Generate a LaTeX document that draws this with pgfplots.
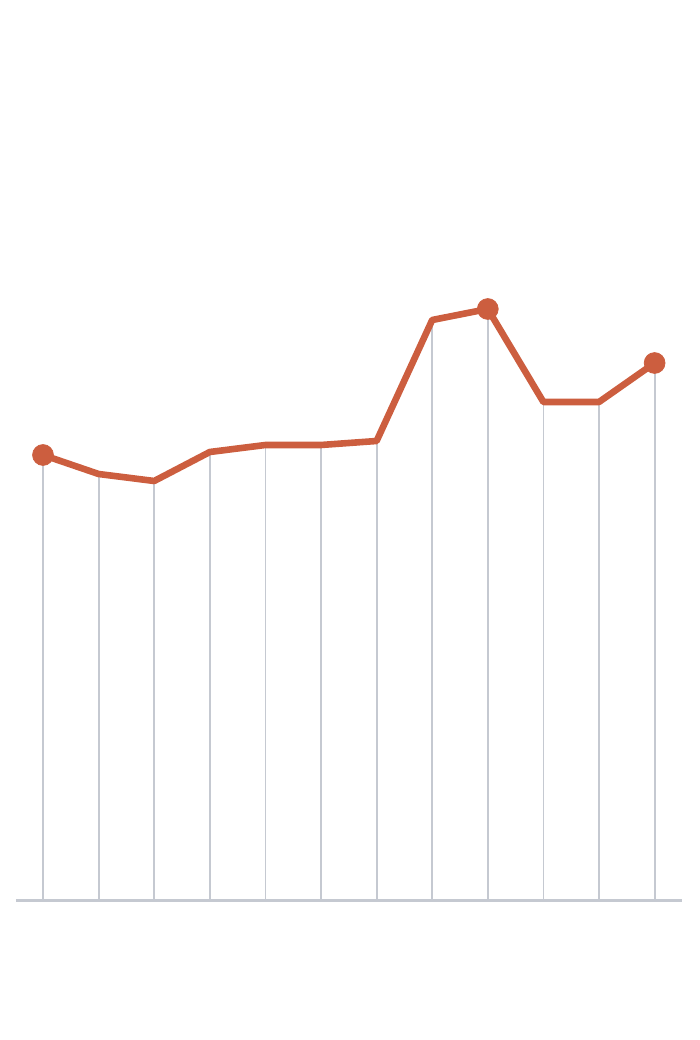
\documentclass[border=0pt]{standalone}
\usepackage{pgfplots}
\pgfplotsset{compat=1.18}

\definecolor{lineOrange}{RGB}{204, 94, 63}
\definecolor{gridGrey}{RGB}{197, 201, 209}

\begin{document}
\begin{tikzpicture}
% 1 px of the reference = 0.5pt; y values are measured up from the baseline
\begin{axis}[
	scale only axis,
	width=350pt, height=520pt,
	axis lines=none,
	xmin=-0.7734, xmax=11.8165,
	ymin=-140, ymax=900,
	clip=false,
]
\path (rel axis cs:0,0) rectangle (rel axis cs:1,1);

% vertical drop lines
\addplot [ycomb, gridGrey, line width=0.9pt, mark=none] coordinates {
(0,445) (1,426) (2,419) (3,448) (4,455) (5,455)
(6,459) (7,580) (8,591) (9,498) (10,498) (11,537)
};

% baseline
\addplot [gridGrey, line width=1.5pt, mark=none] coordinates {(-0.486,-1) (11.49,-1)};

% series
\addplot [lineOrange, line width=3.3pt, line join=round, mark=none] coordinates {
(0,445) (1,426) (2,419) (3,448) (4,455) (5,455)
(6,459) (7,580) (8,591) (9,498) (10,498) (11,537)
};

% highlighted points
\addplot [only marks, mark=*, mark size=5.2pt, lineOrange, mark options={draw=lineOrange, fill=lineOrange}] coordinates {
(0,445) (8,591) (11,537)
};
\end{axis}
\end{tikzpicture}
\end{document}
